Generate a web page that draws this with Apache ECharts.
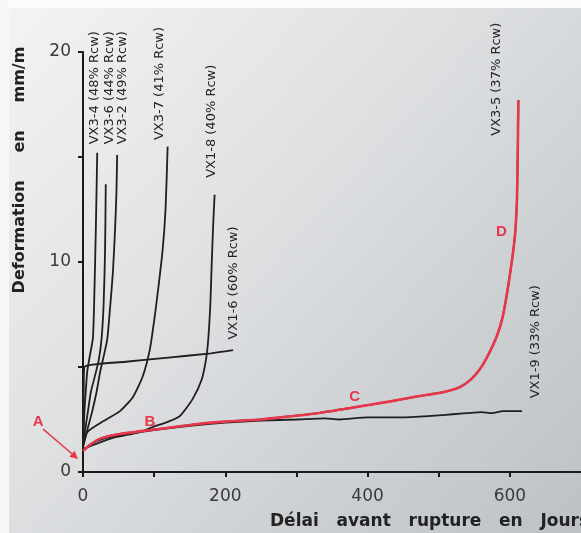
<!DOCTYPE html>
<html><head><meta charset="utf-8">
<script src="https://cdn.jsdelivr.net/npm/echarts@6/dist/echarts.min.js"></script>
<style>html,body{margin:0;padding:0;background:#fff}#c{width:581px;height:533px}</style>
</head><body><div id="c"></div>
<script>
// ---- data (days, deformation mm/m) ----
const vx34Days = [0, 1, 2, 4, 6, 10, 14, 16, 18, 20];
const vx34Def  = [1.2, 2.0, 2.9, 3.9, 4.8, 5.6, 6.4, 8.5, 11.5, 15.2];
const vx36Days = [0, 3, 7, 11, 17, 22, 26, 29, 31, 32];
const vx36Def  = [1.2, 2.0, 2.9, 3.8, 4.6, 5.3, 6.3, 8.0, 10.5, 13.7];
const vx32Days = [0, 6, 13, 19, 24, 29, 34, 38, 42, 45, 47, 48];
const vx32Def  = [1.2, 2.0, 2.9, 3.8, 4.75, 5.5, 6.3, 7.8, 9.5, 11.5, 13.3, 15.1];
const vx37Days = [0, 6, 25, 52, 70, 84, 94, 100, 106, 112, 116, 119];
const vx37Def  = [1.2, 1.9, 2.35, 2.9, 3.56, 4.56, 5.84, 7.2, 8.8, 10.6, 12.5, 15.5];
const vx18Days = [0, 40, 80, 98, 120, 136, 154, 167, 173, 176, 179, 181, 183, 185];
const vx18Def  = [1.1, 1.6, 1.9, 2.14, 2.4, 2.66, 3.47, 4.42, 5.37, 6.3, 8.0, 10.0, 11.8, 13.2];
const vx16Days = [0, 0.5, 1, 2, 60, 120, 180, 211];
const vx16Def  = [1.2, 2.5, 4.0, 5.0, 5.25, 5.45, 5.65, 5.8];
const vx19Days = [0, 10, 30, 60, 100, 150, 200, 250, 300, 340, 360, 400, 450, 480, 500, 520, 540, 560, 575, 590, 617];
const vx19Def  = [1.0, 1.3, 1.6, 1.8, 2.0, 2.2, 2.35, 2.45, 2.5, 2.55, 2.5, 2.6, 2.6, 2.65, 2.7, 2.75, 2.8, 2.85, 2.8, 2.9, 2.9];
const vx35Days = [0, 10, 25, 50, 95, 130, 165, 200, 250, 277, 330, 385, 430, 470, 506, 530, 545, 558, 570, 582, 590, 596, 601, 605, 608, 610, 611, 612];
const vx35Def  = [1.0, 1.3, 1.6, 1.8, 2.0, 2.15, 2.3, 2.4, 2.5, 2.6, 2.8, 3.1, 3.35, 3.6, 3.8, 4.05, 4.4, 4.9, 5.6, 6.5, 7.4, 8.5, 9.6, 10.6, 11.6, 13.0, 15.0, 17.7];

// curve labels and their anchors (data units)
const curveLabels = ['VX3-4 (48% Rcw)', 'VX3-6 (44% Rcw)', 'VX3-2 (49% Rcw)', 'VX3-7 (41% Rcw)',
                     'VX1-8 (40% Rcw)', 'VX1-6 (60% Rcw)', 'VX3-5 (37% Rcw)', 'VX1-9 (33% Rcw)'];
const labelDays = [17, 38, 56, 108, 181, 212, 581, 636];
const labelDef  = [18.3, 18.3, 18.3, 18.5, 16.7, 9.0, 18.7, 6.2];

// phase letters (data units)
const phaseLetters = ['A', 'B', 'C', 'D'];
const phaseDays = [-63, 94, 382, 588];
const phaseDef  = [2.38, 2.4, 3.6, 11.45];
const arrowFrom = [-56, 2.04];
const arrowTo   = [-7, 0.62];

const xTitle = 'Délai   avant   rupture   en   Jours';
const yTitle = 'Deformation     en     mm/m';

function pairs(xs, ys) { return xs.map((x, i) => [x, ys[i]]); }

const black = '#1f1f1f';
const red = '#e8364a';
function blk(name, xs, ys) {
  return { type: 'line', name, data: pairs(xs, ys), symbol: 'none', smooth: 0.2,
           lineStyle: { color: black, width: 1.8 }, clip: false, z: 2 };
}

const chart = echarts.init(document.getElementById('c'), null, { renderer: 'canvas' });
chart.setOption({
  animation: false,
  backgroundColor: {
    type: 'linear', x: 0, y: 0, x2: 1, y2: 1,
    colorStops: [{ offset: 0, color: '#f4f4f4' }, { offset: 0.45, color: '#dddfe1' }, { offset: 1, color: '#bdc1c5' }]
  },
  grid: { left: 83, right: -2, top: 52, bottom: 61 },
  xAxis: {
    type: 'value', min: 0, max: 700, interval: 100,
    axisLine: { show: true, lineStyle: { color: '#1a1a1a', width: 2 } },
    axisTick: { show: true, length: 5, lineStyle: { color: '#1a1a1a', width: 2 } },
    axisLabel: { showMaxLabel: false, margin: 16, color: '#3a3a3a', fontSize: 17, fontFamily: 'DejaVu Sans',
                 formatter: v => (Math.round(v) % 200 === 0 && Math.round(v) < 700 ? String(Math.round(v)) : '') },
    splitLine: { show: false }
  },
  yAxis: {
    type: 'value', min: 0, max: 20, interval: 5,
    axisLine: { show: true, lineStyle: { color: '#1a1a1a', width: 2 } },
    axisTick: { show: true, length: 5, lineStyle: { color: '#1a1a1a', width: 2 } },
    axisLabel: { margin: 12, color: '#3a3a3a', fontSize: 17, fontFamily: 'DejaVu Sans',
                 formatter: v => (v % 10 === 0 ? String(v) : '') },
    splitLine: { show: false }
  },
  series: [
    blk('VX3-4', vx34Days, vx34Def),
    blk('VX3-6', vx36Days, vx36Def),
    blk('VX3-2', vx32Days, vx32Def),
    blk('VX3-7', vx37Days, vx37Def),
    blk('VX1-8', vx18Days, vx18Def),
    blk('VX1-6', vx16Days, vx16Def),
    blk('VX1-9', vx19Days, vx19Def),
    blk('VX3-5', vx35Days, vx35Def),
    { type: 'line', name: 'VX3-5 (red)', data: pairs(vx35Days, vx35Def), symbol: 'none', smooth: 0.2,
      lineStyle: { color: red, width: 2.6 }, clip: false, z: 3 }
  ]
});

function px(x, y) { return chart.convertToPixel({ gridIndex: 0 }, [x, y]); }

const g = [
  { type: 'rect', shape: { x: 0, y: 0, width: 581, height: 8 }, style: { fill: '#fbfbfb' }, z: -1, silent: true },
  { type: 'rect', shape: { x: 0, y: 0, width: 9, height: 533 }, style: { fill: '#f7f7f7' }, z: -1, silent: true }
];
curveLabels.forEach((t, i) => {
  const p = px(labelDays[i], labelDef[i]);
  g.push({ type: 'text', x: p[0], y: p[1], rotation: Math.PI / 2, z: 10,
    style: { text: t, fill: '#252525', fontSize: 13, fontFamily: 'DejaVu Sans', align: 'center', verticalAlign: 'middle' } });
});
phaseLetters.forEach((t, i) => {
  const p = px(phaseDays[i], phaseDef[i]);
  g.push({ type: 'text', x: p[0], y: p[1], z: 10,
    style: { text: t, fill: red, fontSize: 15, fontWeight: 'bold', fontFamily: 'Liberation Sans', align: 'center', verticalAlign: 'middle' } });
});
{
  const a = px(arrowFrom[0], arrowFrom[1]);
  const b = px(arrowTo[0], arrowTo[1]);
  const ang = Math.atan2(b[1] - a[1], b[0] - a[0]);
  const L = 8, W = 4;
  const bx = b[0] - L * Math.cos(ang), by = b[1] - L * Math.sin(ang);
  g.push({ type: 'line', z: 10, shape: { x1: a[0], y1: a[1], x2: bx, y2: by }, style: { stroke: red, lineWidth: 1.5 } });
  g.push({ type: 'polygon', z: 10, shape: { points: [
    [b[0], b[1]],
    [bx + W * Math.sin(ang), by - W * Math.cos(ang)],
    [bx - W * Math.sin(ang), by + W * Math.cos(ang)]
  ] }, style: { fill: red } });
}
g.push({ type: 'text', x: 270, y: 522, z: 10,
  style: { text: xTitle, fill: '#222', fontSize: 17, fontWeight: 'bold', fontFamily: 'DejaVu Sans', align: 'left', verticalAlign: 'middle' } });
g.push({ type: 'text', x: 20, y: 170, rotation: Math.PI / 2, z: 10,
  style: { text: yTitle, fill: '#222', fontSize: 16, fontWeight: 'bold', fontFamily: 'DejaVu Sans', align: 'center', verticalAlign: 'middle' } });

chart.setOption({ graphic: g });
</script>
</body></html>
